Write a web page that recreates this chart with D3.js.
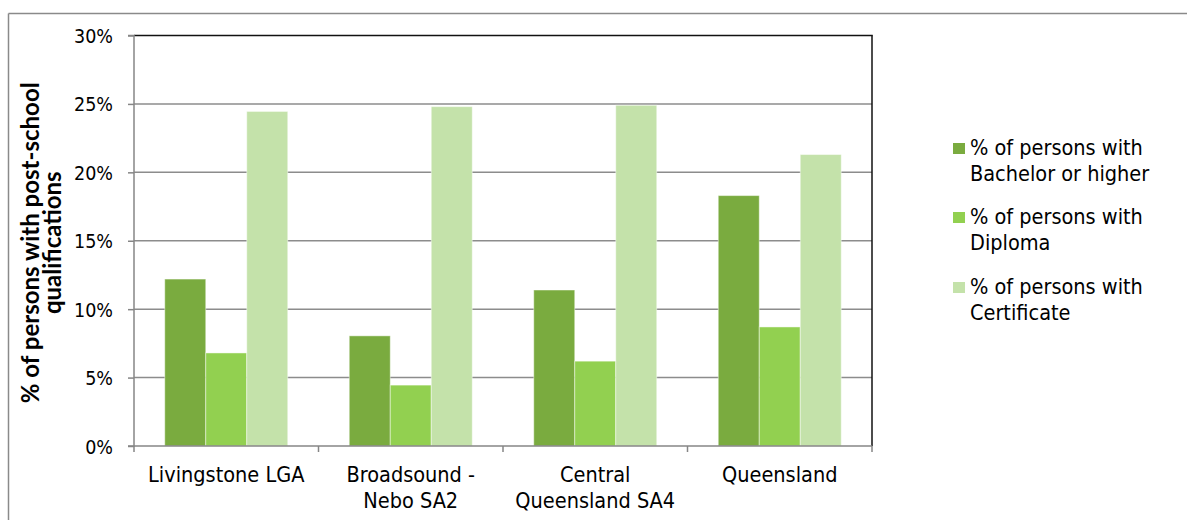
<!DOCTYPE html>
<html>
<head>
<meta charset="utf-8">
<script src="https://cdn.jsdelivr.net/npm/d3@7"></script>
<style>
  html, body { margin: 0; padding: 0; background: #fff; }
  svg { display: block; }
  .lbl { font-family: "DejaVu Sans Condensed", "DejaVu Sans", sans-serif; font-stretch: condensed; fill: #000; }
</style>
</head>
<body>
<svg id="chart" width="1187" height="520"></svg>
<script>
const categories = [["Livingstone LGA"], ["Broadsound -", "Nebo SA2"], ["Central", "Queensland SA4"], ["Queensland"]];
const seriesNames = [["% of persons with", "Bachelor or higher"], ["% of persons with", "Diploma"], ["% of persons with", "Certificate"]];
const bachelor = [12.2, 8.05, 11.4, 18.3];
const diploma = [6.8, 4.45, 6.2, 8.7];
const certificate = [24.45, 24.8, 24.9, 21.3];
const yTicks = [0, 5, 10, 15, 20, 25, 30];
const colors = ["#7aab3f", "#92d050", "#c4e2aa"];
const series = [bachelor, diploma, certificate];

const svg = d3.select("#chart");
const L = 134, R = 872, T = 35.5, B = 446;

// outer frame (top & left)
svg.append("line").attr("x1", 8.5).attr("x2", 1187).attr("y1", 13.5).attr("y2", 13.5).attr("stroke", "#8a8a8a").attr("stroke-width", 1.5);
svg.append("line").attr("x1", 8.5).attr("x2", 8.5).attr("y1", 13.5).attr("y2", 520).attr("stroke", "#8a8a8a").attr("stroke-width", 1.5);

const y = d3.scaleLinear().domain([0, 30]).range([B, T]);
const x0 = d3.scaleBand().domain(d3.range(categories.length)).range([L, R]).padding(0);
const bw = x0.bandwidth();
const x1 = d3.scaleBand().domain(d3.range(series.length)).range([0, bw * 3 / 4.5]).padding(0);
const groupOffset = (bw - bw * 3 / 4.5) / 2;

// gridlines
svg.append("g").selectAll("line").data(yTicks.filter(d => d > 0 && d < 30)).join("line")
  .attr("x1", L).attr("x2", R).attr("y1", d => y(d)).attr("y2", d => y(d))
  .attr("stroke", "#8c8c8c").attr("stroke-width", 1.5);

// bars
const g = svg.append("g");
series.forEach((vals, si) => {
  g.selectAll(".s" + si).data(vals).join("rect")
    .attr("class", "s" + si)
    .attr("x", (d, i) => x0(i) + groupOffset + x1(si))
    .attr("width", x1.bandwidth())
    .attr("y", d => y(d))
    .attr("height", d => B - y(d))
    .attr("fill", colors[si])
    .attr("stroke", "rgba(255,255,255,0.45)").attr("stroke-width", 1);
});

// plot border top & right (black)
svg.append("line").attr("x1", L).attr("x2", R + 0.75).attr("y1", T).attr("y2", T).attr("stroke", "#111").attr("stroke-width", 1.5);
svg.append("line").attr("x1", R).attr("x2", R).attr("y1", T).attr("y2", B).attr("stroke", "#111").attr("stroke-width", 1.5);

// y axis
const yAxis = d3.axisLeft(y).tickValues(yTicks).tickFormat(d => d + "%").tickSize(6).tickPadding(15);
const ya = svg.append("g").attr("transform", `translate(${L},0)`).call(yAxis);
ya.select(".domain").attr("stroke", "#868686").attr("stroke-width", 1.5).attr("d", `M-6,${B}H0V${T}H-6`);
ya.selectAll(".tick line").attr("stroke", "#868686").attr("stroke-width", 1.5);
ya.selectAll(".tick text").attr("class", "lbl").attr("font-size", 19.5).attr("dy", "0.36em");

// x axis
const xAxis = d3.axisBottom(x0).tickValues([]).tickSize(0);
const xa = svg.append("g").attr("transform", `translate(0,${B})`).call(xAxis);
xa.select(".domain").attr("stroke", "#868686").attr("stroke-width", 1.5).attr("d", `M${L},0H${R}`);
xa.selectAll(".xt").data(d3.range(categories.length + 1)).join("line")
  .attr("x1", i => L + i * bw).attr("x2", i => L + i * bw).attr("y1", 0).attr("y2", 6)
  .attr("stroke", "#868686").attr("stroke-width", 1.5);
const xl = svg.append("g");
categories.forEach((lines, i) => {
  const t = xl.append("text").attr("class", "lbl").attr("font-size", 21.5).attr("text-anchor", "middle");
  lines.forEach((ln, j) => {
    t.append("tspan").attr("x", x0(i) + bw / 2).attr("y", 482 + j * 26).text(ln);
  });
});

// y title
const yt = svg.append("text").attr("font-family", "Lato, 'Open Sans', sans-serif").attr("font-weight", "bold")
  .attr("font-size", 24).attr("text-anchor", "middle")
  .attr("transform", `translate(0,${(T + B) / 2 + 2}) rotate(-90)`);
yt.append("tspan").attr("x", 0).attr("y", 39).text("% of persons with post-school");
yt.append("tspan").attr("x", 0).attr("y", 61).text("qualifications");

// legend
const lg = svg.append("g");
const legendY = [143, 212, 282];
seriesNames.forEach((lines, i) => {
  lg.append("rect").attr("x", 953).attr("y", legendY[i]).attr("width", 12).attr("height", 11).attr("fill", colors[i]);
  const t = lg.append("text").attr("class", "lbl").attr("font-size", 21.5);
  lines.forEach((ln, j) => {
    t.append("tspan").attr("x", 970).attr("y", legendY[i] + 12 + j * 26).text(ln);
  });
});
</script>
</body>
</html>
